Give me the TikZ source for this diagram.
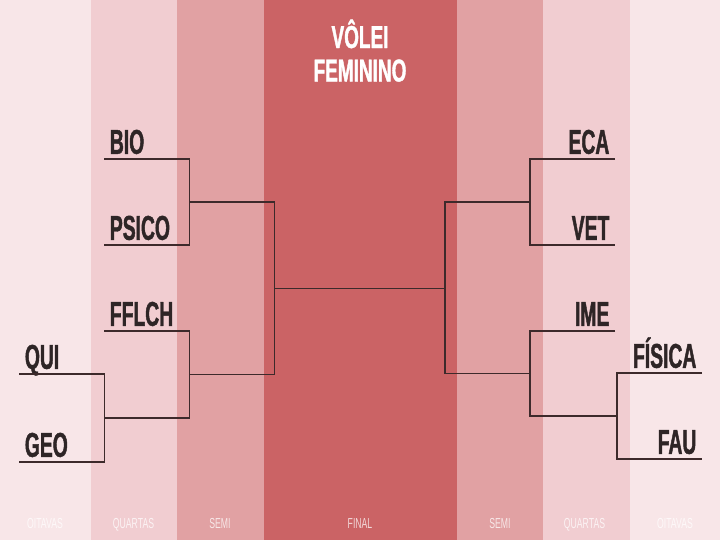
\documentclass[tikz,border=0pt]{standalone}
\usepackage{fontspec}
\usepackage{tikz}
\usetikzlibrary{calc}
\newfontfamily\condbold[FakeStretch=0.56,FakeBold=1.2]{Liberation Sans Bold}
\newfontfamily\condhead[FakeStretch=0.6,FakeBold=1.2]{Liberation Sans Bold}
\newfontfamily\condreg[FakeStretch=0.6]{Liberation Sans}
\definecolor{oitbg}{HTML}{F8E6E8}
\definecolor{quabg}{HTML}{F1CDD1}
\definecolor{semibg}{HTML}{E1A1A3}
\definecolor{finbg}{HTML}{CB6365}
\definecolor{teamtext}{HTML}{2E2526}
\definecolor{linecol}{HTML}{3D2A2B}
\tikzset{
  team/.style={font=\condbold\fontsize{24.5}{28}\selectfont, text=teamtext,
    inner xsep=4pt, inner ysep=3.5pt, text width=52.2pt, text depth=0pt,
    anchor=south west},
  teamleft/.style={team, align=left},
  teamright/.style={team, align=right},
  bracket/.style={draw=linecol, line width=1pt},
  phaselabel/.style={font=\condreg\fontsize{10.3}{12}\selectfont, text=white,
    text opacity=0.75, anchor=base},
  headline/.style={font=\condhead\fontsize{22.5}{26}\selectfont, text=white,
    anchor=base},
}

\begin{document}
\begin{tikzpicture}[x=0.025cm, y=-0.025cm]

\useasboundingbox (0,0) rectangle (720,540);

% colunas de fundo
\foreach \xa/\xb/\bg in {0/90.5/oitbg, 90.5/177/quabg, 177/263.5/semibg,
    263.5/457/finbg, 457/543/semibg, 543/629.5/quabg, 629.5/720/oitbg}
  \fill[\bg] (\xa,0) rectangle (\xb,540);

\node[headline] (tit1) at (360,48) {VÔLEI};
\node[headline] (tit2) at (360,81.5) {FEMININO};

% lado esquerdo
\node[teamleft] (bio) at (104,159) {BIO};
\node[teamleft] (psico) at (104,245) {PSICO};
\node[teamleft] (fflch) at (104,331) {FFLCH};
\node[teamleft] (qui) at (19,374) {QUI};
\node[teamleft] (geo) at (19,462) {GEO};

% lado direito
\node[teamright] (eca) at (530,159) {ECA};
\node[teamright] (vet) at (530,245) {VET};
\node[teamright] (ime) at (530,331) {IME};
\node[teamright] (fisica) at (617,373) {FÍSICA};
\node[teamright] (fau) at (617,459) {FAU};

% chaves da esquerda
\draw[bracket] (bio.south west) -- (bio.south east) |- (psico.south west);
\draw[bracket] (qui.south west) -- (qui.south east) |- (geo.south west);
\coordinate (oL) at ($(qui.south east)!.5!(geo.south east)$);
\draw[bracket] (fflch.south west) -- (fflch.south east) |- (oL);
\coordinate (qL1) at ($(bio.south east)!.5!(psico.south east)$);
\coordinate (qL2) at ($(fflch.south east)!.5!(fflch.south east |- oL)$);
\draw[bracket] (qL1) -- ++(85,0) |- (qL2);
\coordinate (sL) at ($(qL1)!.5!(qL2) + (85,0)$);

% chaves da direita
\draw[bracket] (eca.south east) -- (eca.south west) |- (vet.south east);
\draw[bracket] (fisica.south east) -- (fisica.south west) |- (fau.south east);
\coordinate (oR) at ($(fisica.south west)!.5!(fau.south west)$);
\draw[bracket] (ime.south east) -- (ime.south west) |- (oR);
\coordinate (qR1) at ($(eca.south west)!.5!(vet.south west)$);
\coordinate (qR2) at ($(ime.south west)!.5!(ime.south west |- oR)$);
\draw[bracket] (qR1) -- ++(-85,0) |- (qR2);
\coordinate (sR) at ($(qR1)!.5!(qR2) + (-85,0)$);

% final
\draw[bracket] (sL) -- (sL -| sR);

% fases
\foreach \xc/\fase in {45/OITAVAS, 133.5/QUARTAS, 220/SEMI, 360/FINAL,
    500/SEMI, 584.5/QUARTAS, 675/OITAVAS}
  \node[phaselabel] at (\xc,528) {\fase};

\end{tikzpicture}
\end{document}
